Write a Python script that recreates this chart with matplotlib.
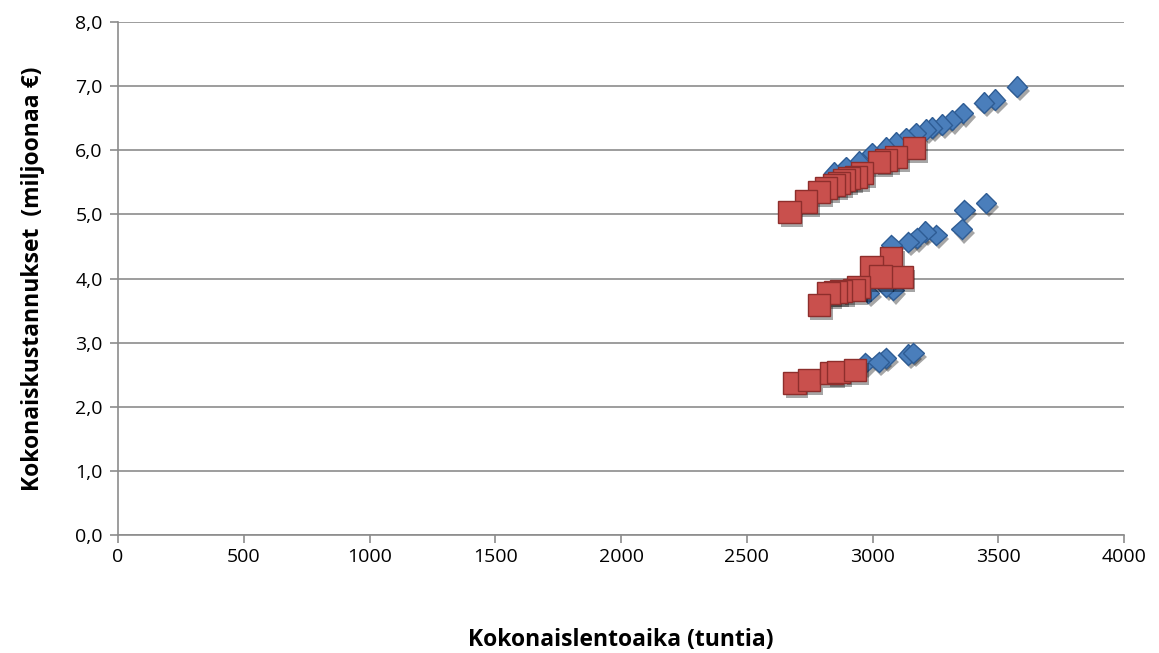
import matplotlib
matplotlib.use("Agg")
import matplotlib.pyplot as plt
import matplotlib.patheffects as pe

# Blue series (diamonds)
blue_x = [3575, 3487, 3443, 3360, 3316, 3276, 3237, 3212, 3173, 3133, 3093, 3054, 2998, 2946, 2894, 2847,
          3452, 3365, 3354, 3254, 3210, 3175, 3143, 3075, 3083, 3055, 2984,
          2972, 3052, 3024, 3143, 3163]
blue_y = [6.99, 6.79, 6.74, 6.58, 6.47, 6.40, 6.35, 6.32, 6.27, 6.19, 6.12, 6.04, 5.96, 5.82, 5.74, 5.65,
          5.18, 5.07, 4.77, 4.68, 4.73, 4.63, 4.57, 4.52, 3.82, 3.87, 3.78,
          2.68, 2.76, 2.70, 2.81, 2.84]

# Red series (squares)
red_x = [3165, 3093, 3054, 3026, 2958, 2934, 2907, 2887, 2867, 2847, 2815, 2787, 2735, 2670,
         3075, 2996, 3115, 3032, 2944, 2925, 2875, 2853, 2825, 2786,
         2690, 2746, 2837, 2865, 2931]
red_y = [6.04, 5.90, 5.85, 5.82, 5.65, 5.58, 5.57, 5.54, 5.49, 5.46, 5.41, 5.35, 5.20, 5.04,
         4.32, 4.18, 4.02, 4.03, 3.87, 3.82, 3.80, 3.79, 3.77, 3.59,
         2.37, 2.42, 2.53, 2.54, 2.57]

x_ticks = [0, 500, 1000, 1500, 2000, 2500, 3000, 3500, 4000]
y_ticks = [0, 1, 2, 3, 4, 5, 6, 7, 8]
y_tick_labels = ["0,0", "1,0", "2,0", "3,0", "4,0", "5,0", "6,0", "7,0", "8,0"]

plt.rcParams['font.family'] = ['Open Sans', 'DejaVu Sans']

fig = plt.figure(figsize=(11.59, 6.53), dpi=100)
ax = fig.add_axes([118/1159, (653-535)/653, (1124-118)/1159, (535-22)/653])

shadow = [pe.SimplePatchShadow(offset=(2, -3), shadow_rgbFace='black', alpha=0.35), pe.Normal()]

ax.plot(blue_x, blue_y, linestyle='none', marker='D', markersize=10.5,
        markerfacecolor='#4A7EBB', markeredgecolor='#2E5C94', markeredgewidth=1.0,
        path_effects=shadow, zorder=3)
ax.plot(red_x, red_y, linestyle='none', marker='s', markersize=16,
        markerfacecolor='#C9504D', markeredgecolor='#8E2E2C', markeredgewidth=1.0,
        path_effects=shadow, zorder=4)

ax.set_xlim(0, 4000)
ax.set_ylim(0, 8)
ax.set_xticks(x_ticks)
ax.set_xticklabels([str(v) for v in x_ticks])
ax.set_yticks(y_ticks)
ax.set_yticklabels(y_tick_labels)

ax.grid(axis='y', color='#8C8C8C', linewidth=1.2)
ax.set_axisbelow(True)
for s in ['top', 'right']:
    ax.spines[s].set_visible(False)
for s in ['left', 'bottom']:
    ax.spines[s].set_color('#8C8C8C')
    ax.spines[s].set_linewidth(1.2)

ax.tick_params(axis='both', colors='#8C8C8C', labelcolor='black', labelsize=14,
               direction='out', length=6, width=1.2)
ax.tick_params(axis='x', pad=3)
ax.tick_params(axis='y', pad=5)

ax.set_xlabel('Kokonaislentoaika (tuntia)', fontsize=16.5, fontweight='bold', labelpad=45)
ax.set_ylabel('Kokonaiskustannukset  (miljoonaa €)', fontsize=16.5, fontweight='bold', labelpad=22)

fig.savefig('out.png', dpi=100)
